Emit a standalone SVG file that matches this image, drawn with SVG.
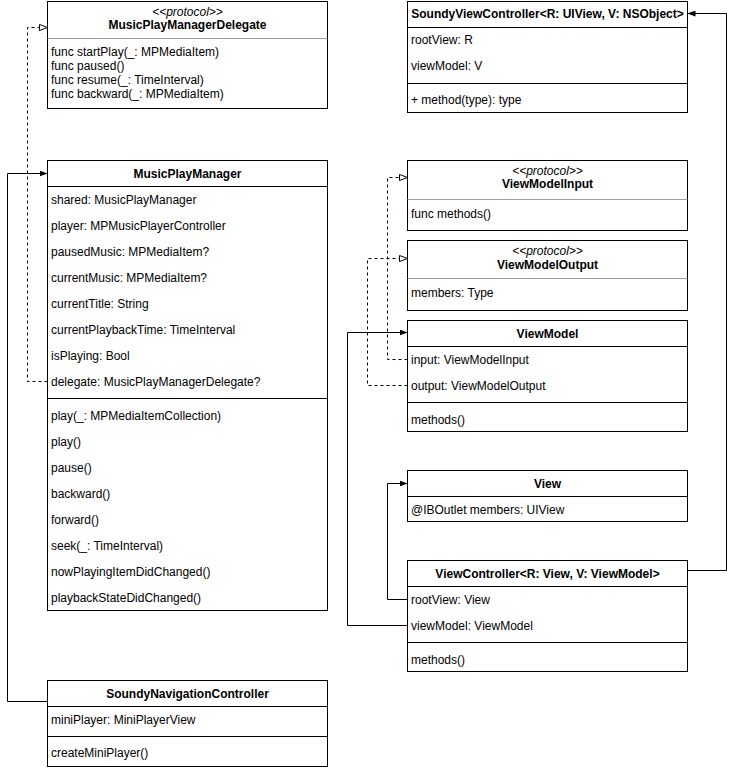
<svg xmlns="http://www.w3.org/2000/svg" width="736" height="770" viewBox="0 0 736 770">
  <style>
    .box { fill: #ffffff; stroke: #000000; stroke-width: 1; }
    .sep { stroke: #000000; stroke-width: 1; }
    .hr { stroke: #a0a0a0; stroke-width: 1; }
    text { font-family: "Liberation Sans", Arial, Helvetica, sans-serif; font-size: 12px; fill: #000000; }
    .title { font-weight: bold; text-anchor: middle; }
    .stereo { font-style: italic; text-anchor: middle; }
    .edge { fill: none; stroke: #000000; stroke-width: 1; }
    .dashed { stroke-dasharray: 3 3; }
  </style>
  <defs>
    <marker id="block" viewBox="0 0 8 6" refX="8" refY="3" markerWidth="8" markerHeight="6" orient="auto" markerUnits="userSpaceOnUse">
      <path d="M0,0 L8,3 L0,6 z" fill="#000000"/>
    </marker>
    <marker id="realize" viewBox="-1 -1 10 8" refX="8" refY="3" markerWidth="10" markerHeight="8" orient="auto" markerUnits="userSpaceOnUse">
      <path d="M0,0 L8,3 L0,6 z" fill="#ffffff" stroke="#000000" stroke-width="1"/>
    </marker>
  </defs>

  <!-- connectors -->
  <g id="connectors">
    <path class="edge dashed" d="M47.5,381.5 H27.5 V27.5 H47.5" marker-end="url(#realize)"/>
    <path class="edge" d="M47.5,701.5 H7.5 V173.5 H47.5" marker-end="url(#block)"/>
    <path class="edge dashed" d="M407.5,359.5 H387.5 V177.5 H407.5" marker-end="url(#realize)"/>
    <path class="edge dashed" d="M407.5,385.5 H367.5 V258.5 H407.5" marker-end="url(#realize)"/>
    <path class="edge" d="M407.5,625.5 H347.5 V332.5 H407.5" marker-end="url(#block)"/>
    <path class="edge" d="M407.5,599.5 H387.5 V483.5 H407.5" marker-end="url(#block)"/>
    <path class="edge" d="M687.5,570.5 H726.5 V13.5 H687.5" marker-end="url(#block)"/>
  </g>

  <!-- MusicPlayManagerDelegate protocol -->
  <g id="MusicPlayManagerDelegate">
    <rect class="box" x="47.5" y="1.5" width="280" height="107"/>
    <text class="stereo" x="187.5" y="16">&lt;&lt;protocol&gt;&gt;</text>
    <text class="title" x="187.5" y="29">MusicPlayManagerDelegate</text>
    <line class="hr" x1="47.5" y1="38.5" x2="327.5" y2="38.5"/>
    <text x="51" y="56">func startPlay(_: MPMediaItem)</text>
    <text x="51" y="70">func paused()</text>
    <text x="51" y="84">func resume(_: TimeInterval)</text>
    <text x="51" y="98">func backward(_: MPMediaItem)</text>
  </g>

  <!-- MusicPlayManager -->
  <g id="MusicPlayManager">
    <rect class="box" x="47.5" y="160.5" width="280" height="450"/>
    <text class="title" x="187.5" y="178">MusicPlayManager</text>
    <line class="sep" x1="47.5" y1="186.5" x2="327.5" y2="186.5"/>
    <text x="51" y="204">shared: MusicPlayManager</text>
    <text x="51" y="230">player: MPMusicPlayerController</text>
    <text x="51" y="256">pausedMusic: MPMediaItem?</text>
    <text x="51" y="282">currentMusic: MPMediaItem?</text>
    <text x="51" y="308">currentTitle: String</text>
    <text x="51" y="334">currentPlaybackTime: TimeInterval</text>
    <text x="51" y="360">isPlaying: Bool</text>
    <text x="51" y="386">delegate: MusicPlayManagerDelegate?</text>
    <line class="sep" x1="47.5" y1="398.5" x2="327.5" y2="398.5"/>
    <text x="51" y="420">play(_: MPMediaItemCollection)</text>
    <text x="51" y="446">play()</text>
    <text x="51" y="472">pause()</text>
    <text x="51" y="498">backward()</text>
    <text x="51" y="524">forward()</text>
    <text x="51" y="550">seek(_: TimeInterval)</text>
    <text x="51" y="576">nowPlayingItemDidChanged()</text>
    <text x="51" y="602">playbackStateDidChanged()</text>
  </g>

  <!-- SoundyNavigationController -->
  <g id="SoundyNavigationController">
    <rect class="box" x="47.5" y="680.5" width="280" height="86"/>
    <text class="title" x="187.5" y="698">SoundyNavigationController</text>
    <line class="sep" x1="47.5" y1="706.5" x2="327.5" y2="706.5"/>
    <text x="51" y="724">miniPlayer: MiniPlayerView</text>
    <line class="sep" x1="47.5" y1="736.5" x2="327.5" y2="736.5"/>
    <text x="51" y="757">createMiniPlayer()</text>
  </g>

  <!-- SoundyViewController -->
  <g id="SoundyViewController">
    <rect class="box" x="407.5" y="1.5" width="280" height="111"/>
    <text class="title" x="547.5" y="18">SoundyViewController&lt;R: UIView, V: NSObject&gt;</text>
    <line class="sep" x1="407.5" y1="27.5" x2="687.5" y2="27.5"/>
    <text x="411" y="44">rootView: R</text>
    <text x="411" y="70">viewModel: V</text>
    <line class="sep" x1="407.5" y1="83.5" x2="687.5" y2="83.5"/>
    <text x="411" y="104">+ method(type): type</text>
  </g>

  <!-- ViewModelInput protocol -->
  <g id="ViewModelInput">
    <rect class="box" x="407.5" y="160.5" width="280" height="70"/>
    <text class="stereo" x="547.5" y="175">&lt;&lt;protocol&gt;&gt;</text>
    <text class="title" x="547.5" y="188">ViewModelInput</text>
    <line class="hr" x1="407.5" y1="199.5" x2="687.5" y2="199.5"/>
    <text x="411" y="218">func methods()</text>
  </g>

  <!-- ViewModelOutput protocol -->
  <g id="ViewModelOutput">
    <rect class="box" x="407.5" y="240.5" width="280" height="70"/>
    <text class="stereo" x="547.5" y="255">&lt;&lt;protocol&gt;&gt;</text>
    <text class="title" x="547.5" y="269">ViewModelOutput</text>
    <line class="hr" x1="407.5" y1="278.5" x2="687.5" y2="278.5"/>
    <text x="411" y="297">members: Type</text>
  </g>

  <!-- ViewModel -->
  <g id="ViewModel">
    <rect class="box" x="407.5" y="320.5" width="280" height="111"/>
    <text class="title" x="547.5" y="338">ViewModel</text>
    <line class="sep" x1="407.5" y1="346.5" x2="687.5" y2="346.5"/>
    <text x="411" y="364">input: ViewModelInput</text>
    <text x="411" y="390">output: ViewModelOutput</text>
    <line class="sep" x1="407.5" y1="402.5" x2="687.5" y2="402.5"/>
    <text x="411" y="424">methods()</text>
  </g>

  <!-- View -->
  <g id="View">
    <rect class="box" x="407.5" y="470.5" width="280" height="51"/>
    <text class="title" x="547.5" y="488">View</text>
    <line class="sep" x1="407.5" y1="496.5" x2="687.5" y2="496.5"/>
    <text x="411" y="514">@IBOutlet members: UIView</text>
  </g>

  <!-- ViewController -->
  <g id="ViewController">
    <rect class="box" x="407.5" y="560.5" width="280" height="111"/>
    <text class="title" x="547.5" y="578">ViewController&lt;R: View, V: ViewModel&gt;</text>
    <line class="sep" x1="407.5" y1="586.5" x2="687.5" y2="586.5"/>
    <text x="411" y="604">rootView: View</text>
    <text x="411" y="630">viewModel: ViewModel</text>
    <line class="sep" x1="407.5" y1="642.5" x2="687.5" y2="642.5"/>
    <text x="411" y="664">methods()</text>
  </g>
</svg>
